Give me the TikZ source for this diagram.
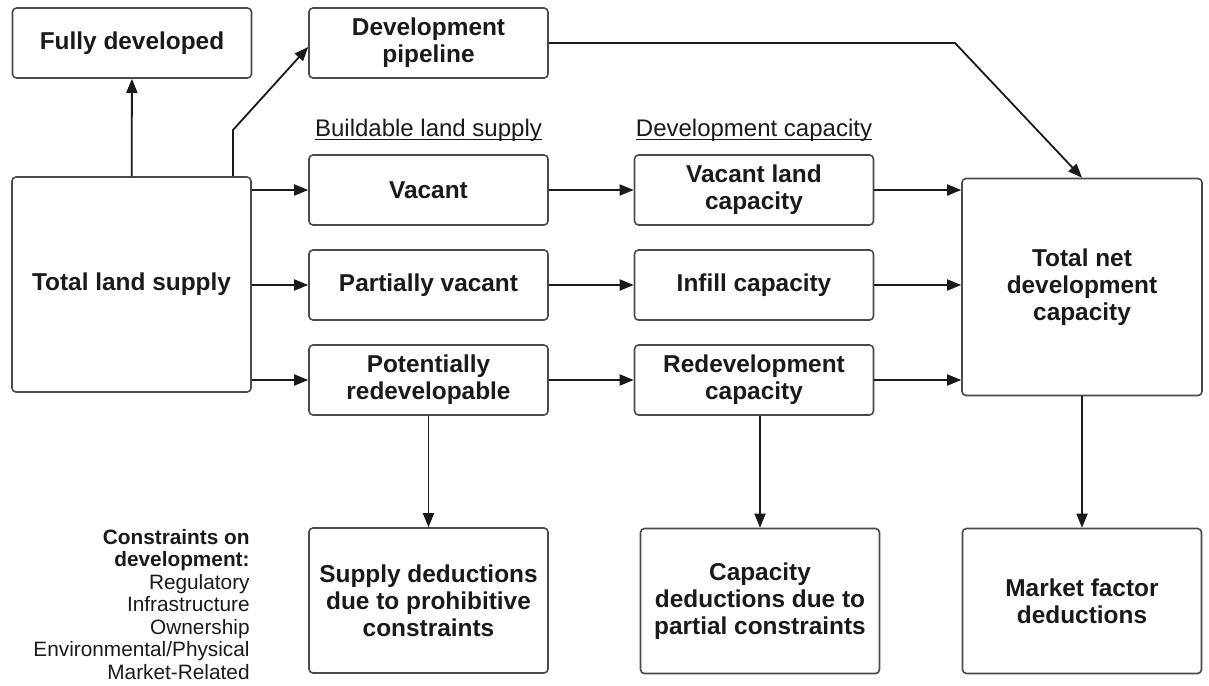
\documentclass[tikz,border=0pt]{standalone}
\usepackage{fontspec}
\setmainfont{Liberation Sans}
\usetikzlibrary{arrows.meta,positioning,calc}
\definecolor{boxgray}{HTML}{4A4A4A}
\definecolor{inkblack}{HTML}{1A1A1A}
\newcommand\boxtext{\fontsize{12.2}{13.6}\selectfont\bfseries}
\newcommand\headtext{\fontsize{12}{14}\selectfont}
\newcommand\listtext{\fontsize{10.4}{11.25}\selectfont}
\tikzset{
	box/.style={draw=boxgray, line width=0.8pt, rounded corners=2pt, align=center,
		text=inkblack, font=\boxtext, inner sep=2pt, minimum width=119.5pt, minimum height=35pt},
	bigbox/.style={box, minimum height=107.5pt},
	dedbox/.style={box, minimum height=72.5pt},
	heading/.style={font=\headtext, text=inkblack, inner sep=0pt},
	underline/.style={draw=inkblack, line width=0.6pt},
	link/.style={draw=inkblack, line width=0.9pt, -{Triangle[length=7pt,width=5.5pt]}},
}
\begin{document}
\begin{tikzpicture}[x=0.5pt,y=-0.5pt]
	\useasboundingbox (0,0) rectangle (1209,685);
	% top row
	\node[box] (full) at (132,43) {Fully developed};
	\node[box] (pipe) at (428.5,43) {Development\\pipeline};
	% headings
	\node[heading] (buildhead) at (428.5,130) {Buildable land supply};
	\node[heading] (caphead) at (754,130) {Development capacity};
	\draw[underline] ([yshift=-1.6pt]buildhead.base west) -- ([yshift=-1.6pt]buildhead.base east);
	\draw[underline] ([yshift=-1.6pt]caphead.base west) -- ([yshift=-1.6pt]caphead.base east);
	% land supply
	\node[bigbox] (land) at (131.5,284.5) {Total land supply};
	\node[box] (vacant) at (428.5,190) {Vacant};
	\node[box] (partial) at (428.5,285) {Partially vacant};
	\node[box] (potential) at (428.5,380) {Potentially\\redevelopable};
	% capacity
	\node[box] (vcap) at (754,190) {Vacant land\\capacity};
	\node[box] (infill) at (754,285) {Infill capacity};
	\node[box] (redev) at (754,380) {Redevelopment\\capacity};
	\node[bigbox, minimum width=120pt, minimum height=108.5pt] (net) at (1082,287) {Total net\\development\\capacity};
	% deductions
	\node[dedbox] (supply) at (428.5,600.5) {Supply deductions\\due to prohibitive\\constraints};
	\node[dedbox] (capded) at (760,601) {Capacity\\deductions due to\\partial constraints};
	\node[dedbox] (market) at (1082,601) {Market factor\\deductions};
	\node[anchor=north east, align=right, inner sep=0pt, font=\listtext, text=inkblack] (constr) at (250,529)
		{\textbf{Constraints on}\\\textbf{development:}\\Regulatory\\Infrastructure\\Ownership\\Environmental/Physical\\Market-Related};
	\coordinate (bend1) at (233,130);
	\coordinate (bend2) at (955,43);
	\draw[link] (land) -- (full);
	\draw[link] (bend1 |- land.north) -- (bend1) -- ([yshift=-2pt]pipe.west);
	\draw[link] (land.east |- vacant) -- (vacant.west);
	\draw[link] (land.east |- partial) -- (partial.west);
	\draw[link] (land.east |- potential) -- (potential.west);
	\draw[link] (vacant) -- (vcap);
	\draw[link] (partial) -- (infill);
	\draw[link] (potential) -- (redev);
	\draw[link] (vcap.east) -- (vcap.east -| net.west);
	\draw[link] (infill.east) -- (infill.east -| net.west);
	\draw[link] (redev.east) -- (redev.east -| net.west);
	\draw[link] (pipe.east) -- (bend2) -- (net.north);
	\draw[link] (potential) -- (supply);
	\draw[link] (capded.north |- redev.south) -- (capded.north);
	\draw[link] (net) -- (market);
\end{tikzpicture}
\end{document}
